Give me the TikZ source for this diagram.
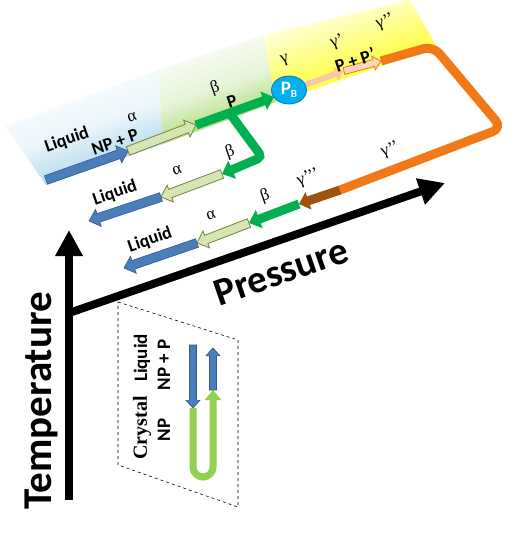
\documentclass[tikz,border=0pt]{standalone}
\usepackage{fontspec}
\setmainfont{Carlito}
\newfontfamily\grkfont{Liberation Serif}
\usepackage{xcolor}
\definecolor{flowblue}{RGB}{74,126,187}
\definecolor{flowbluedark}{RGB}{52,88,135}
\definecolor{palegreen}{RGB}{215,228,180}
\definecolor{olivegreen}{RGB}{110,135,55}
\definecolor{flowgreen}{RGB}{0,176,80}
\definecolor{peach}{RGB}{250,200,160}
\definecolor{palepeach}{RGB}{252,215,185}
\definecolor{flamingorange}{RGB}{242,120,24}
\definecolor{rust}{RGB}{160,82,15}
\definecolor{pbblue}{RGB}{0,176,240}
\definecolor{pbdark}{RGB}{0,120,190}
\definecolor{bandblue}{RGB}{150,205,232}
\definecolor{bandgreen}{RGB}{146,208,80}
\definecolor{bandyellow}{RGB}{255,255,0}
\definecolor{limegreen}{RGB}{146,208,80}
\usepackage{tikz}
\usetikzlibrary{arrows.meta,calc,shapes.geometric}

\newcommand{\blockarrow}[4][]{%
  \coordinate (ba-h) at ($(#3)!2.2*#4!(#2)$);
  \filldraw[#1] ($(#2)!#4!-90:(#3)$) -- ($(ba-h)!#4!-90:(#3)$)
    -- ($(ba-h)!2*#4!-90:(#3)$) -- (#3) -- ($(ba-h)!2*#4!90:(#3)$)
    -- ($(ba-h)!#4!90:(#3)$) -- ($(#2)!#4!90:(#3)$) -- cycle;}

\begin{document}
\begin{tikzpicture}[x=1pt,y=-1pt,
  lbl/.style={font=\fontsize{18}{18}\selectfont\bfseries,rotate=19,inner sep=0pt},
  grk/.style={font=\grkfont\fontsize{17}{17}\selectfont,rotate=19,inner sep=0pt},
  blue arrow/.style={fill=flowblue,draw=flowbluedark,line width=0.6pt},
  pale arrow/.style={fill=palegreen,draw=olivegreen,line width=0.8pt},
  flowline/.style={line width=9pt},
  axis/.style={line width=8pt,-{Triangle[length=26pt,width=26pt]}}]
  \useasboundingbox (0,0) rectangle (520,535);

  \shade[top color=white,bottom color=bandblue,middle color=bandblue!18,shading angle=19]
    (46,185) -- (163,144) -- (158,70) -- (5,126) -- cycle;
  \shade[top color=white,bottom color=bandgreen,middle color=bandgreen!25,shading angle=19]
    (163,144) -- (276,102) -- (264,35) -- (158,70) -- cycle;
  \shade[top color=white,bottom color=bandyellow,middle color=bandyellow!55,shading angle=19]
    (276,102) -- (437,47) -- (410,0) -- (264,35) -- cycle;

  \coordinate (t0) at (69,500);
  \coordinate (t1) at (69,230);
  \coordinate (p0) at (69,313);
  \coordinate (p1) at (445,183);
  \draw[axis] (t0) -- (t1);
  \draw[axis] (p0) -- (p1);
  \node[font=\fontsize{41}{41}\selectfont\bfseries,rotate=90] (temp) at (41,401) {Temperature};
  \node[font=\fontsize{39}{39}\selectfont\bfseries,rotate=19] (pres) at (281,272) {Pressure};

  \coordinate (a0) at (46,180);
  \coordinate (a1) at (128,151);
  \coordinate (a2) at (196,125);
  \coordinate (a3) at (274,97);
  \coordinate (split) at ($(a2)!0.43!(a3)$);
  \coordinate (b1) at (262,157);
  \coordinate (b2) at (222,174);
  \coordinate (b3) at (161,197);
  \coordinate (b4) at (89,221);
  \coordinate (c0) at (302,86);
  \coordinate (c1) at (344,71);
  \coordinate (c2) at (381,61);
  \coordinate (o1) at (433,46);
  \coordinate (o2) at (502,128);
  \coordinate (o3) at (340,190);
  \coordinate (d1) at (299,204);
  \coordinate (d2) at (249,223);
  \coordinate (d3) at (197,243);
  \coordinate (d4) at (124,268);

  \blockarrow[blue arrow]{a0}{a1}{4.5pt}
  \blockarrow[pale arrow]{a1}{a2}{4.5pt}
  \draw[flowgreen,flowline,-{Triangle[length=11pt,width=19pt]}] (a2) -- (a3);
  \draw[flowgreen,flowline,rounded corners=5pt,-{Triangle[length=11pt,width=19pt]}]
    (split) -- (b1) -- (b2);
  \blockarrow[pale arrow]{b2}{b3}{4.5pt}
  \blockarrow[blue arrow]{b3}{b4}{4.5pt}

  \draw[peach,line width=6pt,-{Triangle[length=9pt,width=14pt]}] (c0) -- (c1);
  \blockarrow[fill=palepeach,draw=flamingorange,line width=0.8pt]{c1}{c2}{3.5pt}
  \draw[flamingorange,flowline,rounded corners=10pt] (c2) -- (o1) -- (o2) -- (o3);
  \draw[flowgreen,flowline,-{Triangle[length=11pt,width=19pt]}] (d1) -- (d2);
  \draw[rust,flowline,-{Triangle[length=10pt,width=18pt]}] (o3) -- (d1);
  \blockarrow[pale arrow]{d2}{d3}{4.5pt}
  \blockarrow[blue arrow]{d3}{d4}{4.5pt}

  \node[ellipse,fill=pbblue,draw=pbdark,line width=0.8pt,minimum width=35pt,
    minimum height=28pt,inner sep=0pt,text=white,font=\bfseries] (pb) at (289,90)
    {\fontsize{19}{19}\selectfont P\raisebox{-3pt}{\fontsize{11}{11}\selectfont B}};

  \node[lbl] (lq1) at (67,140) {Liquid};
  \node[lbl] (np1) at (115,142) {NP + P};
  \node[grk] (al1) at (132,117) {α};
  \node[grk] (be1) at (215,88) {β};
  \node[lbl] (pp0) at (232,101) {P};
  \node[grk] (ga1) at (285,60) {γ};
  \node[grk] (ga2) at (337,42) {γ’};
  \node[grk] (ga3) at (385,22) {γ’’};
  \node[lbl] (pp1) at (355,60) {P + P’};
  \node[grk] (ga4) at (390,150) {γ’’};
  \node[grk] (ga5) at (308,178) {γ’’’};
  \node[grk] (be2) at (230,152) {β};
  \node[grk] (al2) at (177,170) {α};
  \node[lbl] (lq2) at (115,193) {Liquid};
  \node[grk] (be3) at (265,196) {β};
  \node[grk] (al3) at (211,215) {α};
  \node[lbl] (lq3) at (150,240) {Liquid};

  \draw[dashed,line width=0.6pt] (118,302) -- (238,340) -- (238,507) -- (118,465) -- cycle;
  \node[font=\grkfont\fontsize{20}{20}\selectfont\bfseries,rotate=90] (cry) at (142,428) {Crystal};
  \node[font=\fontsize{19}{19}\selectfont\bfseries,rotate=90] (liq) at (142,358) {Liquid};
  \node[font=\fontsize{19}{19}\selectfont\bfseries,rotate=90] (np) at (164,430) {NP};
  \node[font=\fontsize{19}{19}\selectfont\bfseries,rotate=90] (npp) at (164,365) {NP + P};
  \coordinate (e0) at (193,345);
  \coordinate (e1) at (193,408);
  \coordinate (e2) at (213,390);
  \coordinate (e3) at (213,348);
  \draw[limegreen,line width=7pt,rounded corners=10pt,-{Triangle[length=10pt,width=16pt]}]
    (e1) -- (193,477) -- (213,477) -- (e2);
  \blockarrow[blue arrow]{e0}{e1}{3.5pt}
  \blockarrow[blue arrow]{e2}{e3}{3.5pt}
\end{tikzpicture}
\end{document}
